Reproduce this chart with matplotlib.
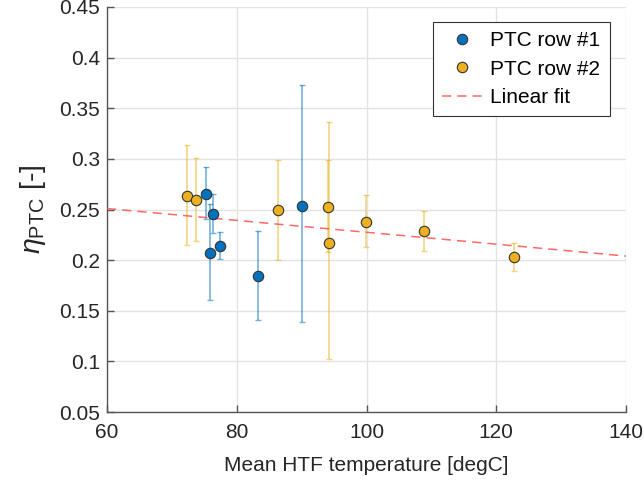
import numpy as np
import matplotlib
matplotlib.use("Agg")
import matplotlib.pyplot as plt
from matplotlib.ticker import FuncFormatter

matplotlib.rcParams.update({
    'font.family': ['Liberation Sans', 'DejaVu Sans'],
    'mathtext.fontset': 'custom',
    'mathtext.rm': 'Liberation Sans',
    'mathtext.it': 'Liberation Sans:italic',
})

# PTC row #1
row1_T = [75.3, 76.4, 75.9, 77.35, 83.3, 90.1]
row1_eta = [0.2657, 0.2453, 0.207, 0.2143, 0.184, 0.2538]
row1_lo = [0.241, 0.2268, 0.161, 0.2015, 0.1406, 0.139]
row1_hi = [0.292, 0.2657, 0.2558, 0.2278, 0.2288, 0.373]

# PTC row #2
row2_T = [72.3, 73.7, 86.3, 94.1, 94.25, 99.95, 108.8, 122.75]
row2_eta = [0.2637, 0.2598, 0.2492, 0.2525, 0.2169, 0.2377, 0.2288, 0.2028]
row2_lo = [0.2153, 0.2186, 0.1998, 0.208, 0.1027, 0.213, 0.2094, 0.189]
row2_hi = [0.314, 0.3013, 0.2986, 0.2993, 0.3364, 0.2647, 0.2482, 0.2169]

# linear fit end points
fit_T = [60, 140]
fit_eta = [0.251, 0.204]

blue = '#0072BD'
yellow = '#EDB120'
dark = '#262626'

fig = plt.figure(figsize=(6.44, 4.84), dpi=100)
ax = fig.add_axes([107 / 644, 1 - 412 / 484, (626 - 107) / 644, (412 - 7) / 484])


def draw_row(T, eta, lo, hi, color, label, z):
    eta = np.array(eta)
    yerr = [eta - np.array(lo), np.array(hi) - eta]
    ax.errorbar(T, eta, yerr=yerr, fmt='none', ecolor=color, alpha=0.55,
                elinewidth=1.2, capsize=2, capthick=1, zorder=z)
    ax.plot(T, eta, 'o', color=color, markersize=7.5, markeredgecolor='#333333',
            markeredgewidth=0.8, label=label, zorder=z + 2, linestyle='none')


draw_row(row1_T, row1_eta, row1_lo, row1_hi, blue, 'PTC row #1', 2)
draw_row(row2_T, row2_eta, row2_lo, row2_hi, yellow, 'PTC row #2', 3)
ax.plot(fit_T, fit_eta, '--', color='#ff4d4d', alpha=0.85, linewidth=1.1,
        dashes=(6, 4), label='Linear fit', zorder=3.5)

ax.set_xlim(60, 140)
ax.set_ylim(0.05, 0.45)
ax.set_xticks(np.arange(60, 141, 20))
ax.set_yticks(np.arange(0.05, 0.451, 0.05))
ax.yaxis.set_major_formatter(FuncFormatter(lambda v, p: '%g' % round(v, 2)))

ax.grid(True, color='#e3e3e3', linewidth=1)
ax.set_axisbelow(True)
for s in ['top', 'right']:
    ax.spines[s].set_visible(False)
for s in ['left', 'bottom']:
    ax.spines[s].set_color('#555555')
    ax.spines[s].set_linewidth(1)
ax.tick_params(direction='in', length=5, width=1, color='#555555',
               labelsize=15, labelcolor=dark)
ax.tick_params(axis='x', pad=8)
ax.tick_params(axis='y', pad=5)

ax.set_xlabel('Mean HTF temperature [degC]', fontsize=15, color=dark, labelpad=10)
ax.set_ylabel(r'$\eta_{\mathrm{PTC}}$ [-]', fontsize=20.5, color=dark, labelpad=8)

leg = ax.legend(loc='upper right', bbox_to_anchor=(0.969, 0.963), borderaxespad=0,
                fontsize=15, frameon=True, fancybox=False, edgecolor='#333333',
                framealpha=1, handlelength=1.9, handletextpad=0.4,
                borderpad=0.45, labelspacing=0.45)
leg.get_frame().set_linewidth(0.8)

fig.savefig('out.png', dpi=100)
